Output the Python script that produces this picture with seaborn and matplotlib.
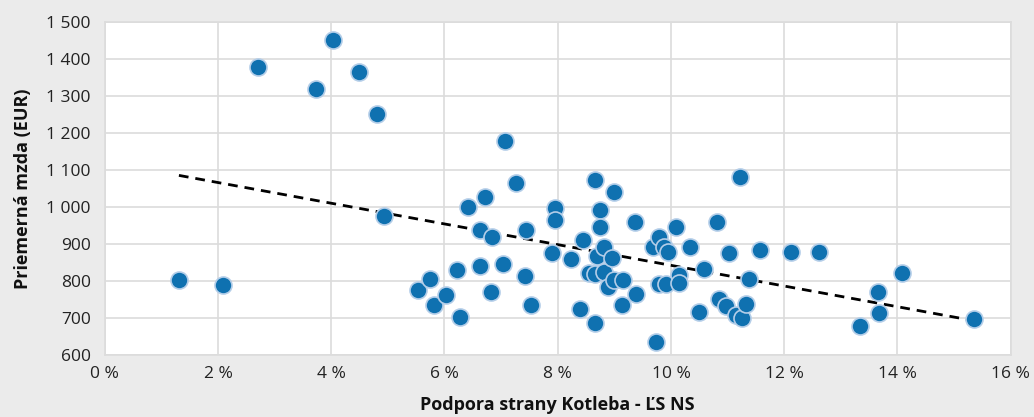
import numpy as np
import pandas as pd
import matplotlib
matplotlib.use("Agg")
import matplotlib.pyplot as plt
import seaborn as sns
from matplotlib.ticker import FuncFormatter

# --- Dáta (odčítané z grafu) --- #
podpora = [1.31, 2.08, 2.71, 3.73, 4.03, 4.49, 4.81, 4.94, 5.53, 5.75,
           5.81, 6.03, 6.22, 6.27, 6.41, 6.63, 6.63, 6.72, 6.84, 6.83,
           7.03, 7.07, 7.27, 7.43, 7.44, 7.53, 7.90, 7.95, 7.96, 8.24,
           8.40, 8.44, 8.56, 8.66, 8.66, 8.66, 8.69, 8.75, 8.75, 8.82,
           8.82, 8.88, 8.96, 8.99, 9.00, 9.15, 9.13, 9.37, 9.39, 9.68,
           9.74, 9.78, 9.78, 9.87, 9.92, 9.94, 10.09, 10.15, 10.15, 10.34,
           10.50, 10.58, 10.81, 10.84, 11.02, 10.98, 11.14, 11.22, 11.25, 11.33,
           11.37, 11.58, 12.12, 12.61, 13.33, 13.66, 13.67, 14.08, 15.36]
mzda = [803, 788, 1378, 1319, 1451, 1364, 1251, 976, 776, 806,
        734, 762, 830, 704, 1001, 840, 938, 1028, 918, 771,
        846, 1178, 1064, 813, 938, 735, 877, 996, 965, 860,
        723, 910, 822, 820, 686, 1073, 868, 993, 947, 892,
        825, 785, 862, 1040, 803, 803, 736, 960, 765, 891,
        636, 920, 792, 891, 792, 879, 947, 816, 795, 891,
        717, 832, 960, 750, 876, 732, 708, 1080, 701, 739,
        806, 883, 878, 878, 679, 771, 714, 822, 696]

x_ticks = [0, 2, 4, 6, 8, 10, 12, 14, 16]
y_ticks = [600, 700, 800, 900, 1000, 1100, 1200, 1300, 1400, 1500]

df = pd.DataFrame({"podpora": podpora, "mzda": mzda})

sns.set_style("whitegrid")
plt.rcParams["font.family"] = ["Open Sans", "DejaVu Sans"]

fig = plt.figure(figsize=(10.34, 4.17), dpi=100, facecolor="#ebebeb")
ax = fig.add_axes([0.1013, 0.1487, 0.8762, 0.7985])
ax.set_facecolor("white")

sns.regplot(data=df, x="podpora", y="mzda", ax=ax, ci=None, scatter=False,
            line_kws={"color": "black", "linestyle": (0, (3.5, 2.5)), "linewidth": 2})
sns.scatterplot(data=df, x="podpora", y="mzda", ax=ax, s=150, color="#0f71b0",
                edgecolor="#b3cde8", linewidth=1.2, zorder=3)

ax.set_xlim(0, 16)
ax.set_ylim(600, 1500)
ax.set_xticks(x_ticks)
ax.set_yticks(y_ticks)
ax.xaxis.set_major_formatter(FuncFormatter(lambda v, p: f"{v:.0f} %"))
ax.yaxis.set_major_formatter(FuncFormatter(lambda v, p: f"{v:,.0f}".replace(",", " ")))
ax.tick_params(axis="both", labelsize=12.5, colors="#222222", length=0)
ax.tick_params(axis="x", pad=8)
ax.tick_params(axis="y", pad=10)
ax.grid(True, color="#dcdcdc", linewidth=1.2)
for s in ax.spines.values():
    s.set_color("#dcdcdc")
    s.set_linewidth(1.2)

ax.set_xlabel("Podpora strany Kotleba - ĽS NS", fontsize=13, fontweight="bold",
              color="#111111", labelpad=10)
ax.set_ylabel("Priemerná mzda (EUR)", fontsize=13, fontweight="bold",
              color="#111111", labelpad=10)

fig.savefig("out.png", dpi=100, facecolor=fig.get_facecolor())
